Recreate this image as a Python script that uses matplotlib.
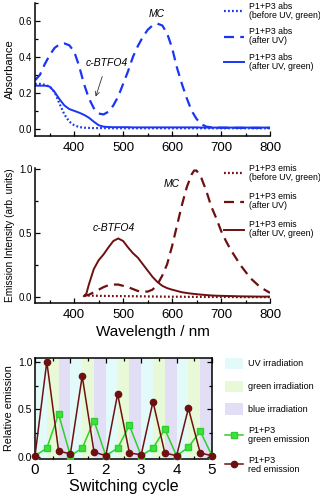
import matplotlib
matplotlib.use("Agg")
import matplotlib.pyplot as plt
from matplotlib.lines import Line2D
from matplotlib.patches import Patch
from matplotlib.ticker import MultipleLocator

plt.rcParams['font.family'] = ['Liberation Sans', 'DejaVu Sans']

# ---------------- data ----------------
wl_abs = [320, 330, 340, 350, 360, 370, 380, 390, 400, 410, 420, 430, 440, 450, 460,
          470, 480, 490, 500, 510, 520, 530, 540, 550, 560, 570, 580, 590, 600, 610,
          620, 630, 640, 650, 660, 670, 680, 700, 750, 800]
abs_before = [0.25, 0.25, 0.245, 0.235, 0.205, 0.14, 0.08, 0.04, 0.02, 0.01, 0.006, 0.005,
              0.004, 0.004, 0.004, 0.003, 0.003, 0.003, 0.003, 0.003, 0.003, 0.003, 0.003,
              0.003, 0.003, 0.003, 0.003, 0.003, 0.003, 0.003, 0.003, 0.003, 0.003, 0.003,
              0.003, 0.003, 0.003, 0.003, 0.003, 0.003]
abs_after_uv = [0.27, 0.30, 0.36, 0.41, 0.45, 0.47, 0.475, 0.465, 0.43, 0.35, 0.25, 0.17,
                0.115, 0.085, 0.08, 0.095, 0.13, 0.18, 0.25, 0.32, 0.40, 0.46, 0.51, 0.55,
                0.575, 0.585, 0.575, 0.53, 0.45, 0.34, 0.25, 0.17, 0.10, 0.055, 0.025,
                0.012, 0.008, 0.006, 0.005, 0.005]
abs_after_green = [0.24, 0.24, 0.24, 0.235, 0.205, 0.165, 0.13, 0.11, 0.10, 0.09, 0.078,
                   0.062, 0.04, 0.02, 0.012, 0.01, 0.009, 0.009, 0.009, 0.009, 0.008, 0.008,
                   0.008, 0.008, 0.008, 0.008, 0.008, 0.008, 0.008, 0.008, 0.008, 0.008,
                   0.008, 0.008, 0.007, 0.007, 0.007, 0.007, 0.007, 0.007]

wl_em = [420, 425, 430, 440, 450, 460, 470, 480, 490, 500, 510, 520, 530, 540, 550, 560,
         570, 580, 590, 600, 610, 620, 630, 640, 645, 650, 660, 670, 680, 690, 700, 710,
         720, 730, 740, 760, 780, 800]
em_before = [0.015, 0.014, 0.014, 0.013, 0.012, 0.011, 0.011, 0.010, 0.010, 0.010, 0.009,
             0.009, 0.008, 0.008, 0.007, 0.007, 0.006, 0.006, 0.005, 0.005, 0.005, 0.005,
             0.004, 0.004, 0.004, 0.004, 0.004, 0.003, 0.003, 0.003, 0.003, 0.003, 0.003,
             0.002, 0.002, 0.002, 0.002, 0.002]
em_after_uv = [0.01, 0.015, 0.02, 0.04, 0.06, 0.08, 0.095, 0.10, 0.10, 0.09, 0.08, 0.065,
               0.05, 0.045, 0.045, 0.06, 0.10, 0.17, 0.26, 0.40, 0.56, 0.72, 0.86, 0.96,
               0.99, 0.99, 0.93, 0.83, 0.71, 0.62, 0.52, 0.44, 0.37, 0.31, 0.25, 0.15,
               0.08, 0.035]
em_after_green = [0.01, 0.03, 0.10, 0.22, 0.29, 0.335, 0.39, 0.44, 0.46, 0.44, 0.39, 0.345,
                  0.31, 0.26, 0.21, 0.16, 0.12, 0.09, 0.072, 0.06, 0.05, 0.04, 0.034, 0.029,
                  0.027, 0.025, 0.021, 0.018, 0.015, 0.013, 0.012, 0.011, 0.010, 0.009,
                  0.008, 0.007, 0.006, 0.006]

cycle = [0, 1/3, 2/3, 1, 4/3, 5/3, 2, 7/3, 8/3, 3, 10/3, 11/3, 4, 13/3, 14/3, 5]
green_emission = [0.01, 0.09, 0.45, 0.01, 0.09, 0.38, 0.01, 0.09, 0.33, 0.01, 0.09, 0.29,
                  0.01, 0.10, 0.27, 0.01]
red_emission = [0.01, 1.0, 0.06, 0.03, 0.85, 0.05, 0.01, 0.66, 0.04, 0.02, 0.58, 0.04,
                0.01, 0.51, 0.04, 0.01]
n_cycles = 5
band_names = ['UV irradiation', 'green irradiation', 'blue irradiation']

# ---------------- style ----------------
BLUE = '#1a36f5'
DRED = '#6e1010'
GREEN_L = '#2bd12b'
GREEN_M = '#3ee03e'
BAND_COLORS = ['#e2fafa', '#e8f9d8', '#e2def5']

fig = plt.figure(figsize=(3.2, 4.94), dpi=100)
W, H = 320, 494


def axes_px(left, top, right, bottom):
    return fig.add_axes([left / W, 1 - bottom / H, (right - left) / W, (bottom - top) / H])


def style_axes(ax, box=False):
    for s in ['left', 'bottom']:
        ax.spines[s].set_linewidth(1.1)
    if box:
        for s in ['top', 'right']:
            ax.spines[s].set_linewidth(1.1)
    else:
        ax.spines['top'].set_visible(False)
        ax.spines['right'].set_visible(False)
    ax.tick_params(which='both', direction='in', width=0.9, top=box, right=box)
    ax.tick_params(which='major', length=3.5)
    ax.tick_params(which='minor', length=2)
    ax.tick_params(axis='y', labelsize=7, pad=2)
    ax.tick_params(axis='x', labelsize=9.5, pad=4.5)


def tight_lines(leg, ls=1.0):
    for t in leg.get_texts():
        t.set_linespacing(ls)


dash_long = (4.5, 2.8)

# ---------------- top: absorbance ----------------
ax1 = axes_px(35, 3, 270, 136)
ax1.plot(wl_abs, abs_before, color=BLUE, lw=1.6, ls=(0, (0.8, 1.0)),
         label='P1+P3 abs\n(before UV, green)')
ax1.plot(wl_abs, abs_after_uv, color=BLUE, lw=1.6, ls=(0, dash_long),
         label='P1+P3 abs\n(after UV)')
ax1.plot(wl_abs, abs_after_green, color=BLUE, lw=1.4, label='P1+P3 abs\n(after UV, green)')
ax1.set_xlim(320, 800)
ax1.set_ylim(-0.04, 0.70)
ax1.xaxis.set_major_locator(MultipleLocator(100))
ax1.xaxis.set_minor_locator(MultipleLocator(50))
ax1.yaxis.set_major_locator(MultipleLocator(0.2))
ax1.yaxis.set_minor_locator(MultipleLocator(0.1))
ax1.yaxis.set_major_formatter(plt.FormatStrFormatter('%.1f'))
style_axes(ax1)
ax1.set_ylabel('Absorbance', fontsize=8, labelpad=3)
ax1.text(568, 0.637, 'MC', style='italic', fontsize=7.5, ha='center', va='center')
ax1.annotate('c-BTFO4', xy=(444, 0.179), xytext=(466, 0.364), style='italic', fontsize=7.5,
             ha='center', va='center',
             arrowprops=dict(arrowstyle='->', color='#333333', lw=0.6, shrinkA=4, shrinkB=0))
leg1 = ax1.legend(loc='upper left', bbox_to_anchor=(224 / W, 1 - 2 / H),
                  bbox_transform=fig.transFigure, frameon=False, fontsize=6.3,
                  handlelength=2.3, handletextpad=0.6, labelspacing=0.85, borderpad=0,
                  borderaxespad=0)
tight_lines(leg1)

# ---------------- middle: emission ----------------
ax2 = axes_px(35, 168, 270, 303)
ax2.plot(wl_em, em_before, color=DRED, lw=1.6, ls=(0, (0.8, 1.0)),
         label='P1+P3 emis\n(before UV, green)')
ax2.plot(wl_em, em_after_uv, color=DRED, lw=1.6, ls=(0, dash_long),
         label='P1+P3 emis\n(after UV)')
ax2.plot(wl_em, em_after_green, color=DRED, lw=1.4, label='P1+P3 emis\n(after UV, green)')
ax2.set_xlim(320, 800)
ax2.set_ylim(-0.044, 1.01)
ax2.xaxis.set_major_locator(MultipleLocator(100))
ax2.xaxis.set_minor_locator(MultipleLocator(50))
ax2.yaxis.set_major_locator(MultipleLocator(0.5))
ax2.yaxis.set_minor_locator(MultipleLocator(0.25))
ax2.yaxis.set_major_formatter(plt.FormatStrFormatter('%.1f'))
style_axes(ax2)
ax2.set_ylabel('Emission Intensity (arb. units)', fontsize=7.3, labelpad=3)
ax2.set_xlabel('Wavelength / nm', fontsize=11, labelpad=3)
ax2.text(599, 0.885, 'MC', style='italic', fontsize=7.5, ha='center', va='center')
ax2.text(480, 0.54, 'c-BTFO4', style='italic', fontsize=7.5, ha='center', va='center')
leg2 = ax2.legend(loc='upper left', bbox_to_anchor=(224 / W, 1 - 164 / H),
                  bbox_transform=fig.transFigure, frameon=False, fontsize=6.3,
                  handlelength=2.3, handletextpad=0.6, labelspacing=1.15, borderpad=0,
                  borderaxespad=0)
tight_lines(leg2)

# ---------------- bottom: switching ----------------
ax3 = axes_px(35, 358, 212, 459)
for c in range(n_cycles):
    for k in range(3):
        ax3.axvspan(c + k / 3, c + (k + 1) / 3, color=BAND_COLORS[k], lw=0, zorder=0)
ax3.plot(cycle, green_emission, color=GREEN_L, lw=1.1, marker='s', ms=4,
         mfc=GREEN_M, mec=GREEN_L, zorder=3)
ax3.plot(cycle, red_emission, color=DRED, lw=1.1, marker='o', ms=4.5,
         mfc=DRED, mec=DRED, zorder=4, clip_on=False)
ax3.set_xlim(0, n_cycles)
ax3.set_ylim(-0.024, 1.04)
ax3.xaxis.set_major_locator(MultipleLocator(1))
ax3.xaxis.set_minor_locator(MultipleLocator(0.5))
ax3.yaxis.set_major_locator(MultipleLocator(0.5))
ax3.yaxis.set_minor_locator(MultipleLocator(0.25))
ax3.yaxis.set_major_formatter(plt.FormatStrFormatter('%.1f'))
style_axes(ax3, box=True)
ax3.tick_params(axis='x', labelsize=11, pad=3)
ax3.tick_params(axis='y', labelsize=7.5)
ax3.set_ylabel('Relative emission', fontsize=7.8, labelpad=3)
ax3.set_xlabel('Switching cycle', fontsize=11.5, labelpad=1)

handles = [Patch(facecolor=BAND_COLORS[k], edgecolor='none', label=band_names[k]) for k in range(3)]
handles.append(Line2D([], [], color=GREEN_L, lw=1.1, marker='s', ms=4, mfc=GREEN_M,
                      mec=GREEN_L, label='P1+P3\ngreen emission'))
handles.append(Line2D([], [], color=DRED, lw=1.1, marker='o', ms=4.5, mfc=DRED, mec=DRED,
                      label='P1+P3\nred emission'))
leg3 = ax3.legend(handles=handles, loc='upper left', bbox_to_anchor=(225 / W, 1 - 358 / H),
                  bbox_transform=fig.transFigure, frameon=False, fontsize=6.5,
                  handlelength=2.0, handleheight=1.5, handletextpad=0.6, labelspacing=1.3,
                  borderpad=0, borderaxespad=0)
tight_lines(leg3)

fig.savefig('out.png', dpi=100)
